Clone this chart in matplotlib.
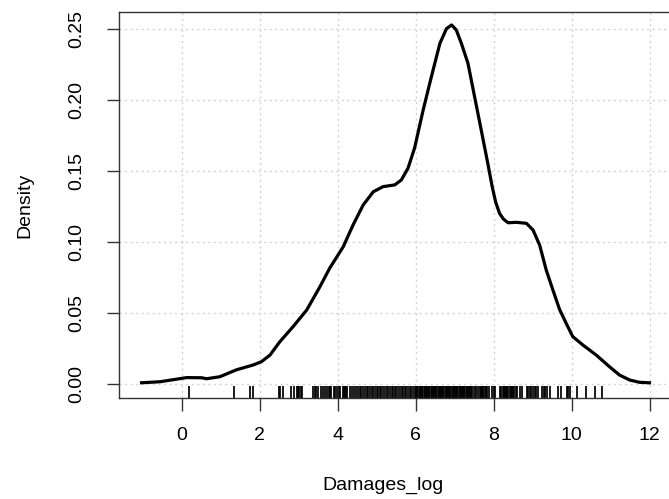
import numpy as np
import matplotlib
matplotlib.use("Agg")
import matplotlib.pyplot as plt

# =========================
# 1. Data
# =========================
density_x = [-1.08, -0.56, 0.12, 0.50, 0.63, 0.97, 1.40, 1.83, 2.04, 2.26,
             2.51, 2.85, 3.20, 3.54, 3.79, 4.14, 4.39, 4.65, 4.91, 5.16,
             5.46, 5.63, 5.80, 5.97, 6.19, 6.40, 6.62, 6.79, 6.92, 7.04,
             7.17, 7.34, 7.51, 7.68, 7.85, 7.96, 8.05, 8.15, 8.25, 8.37, 8.58, 8.84,
             9.01, 9.18, 9.35, 9.52, 9.69, 9.86, 10.03, 10.29, 10.63, 10.97,
             11.23, 11.49, 11.74, 12.04]
density_y = [0.0008, 0.0016, 0.0045, 0.0044, 0.0037, 0.0051, 0.0100, 0.0134, 0.0157, 0.0204,
             0.0297, 0.0403, 0.0520, 0.0684, 0.0814, 0.0966, 0.1118, 0.1259, 0.1352, 0.1388,
             0.1400, 0.1435, 0.1517, 0.1660, 0.1927, 0.2160, 0.2396, 0.2500, 0.2525, 0.2490,
             0.2396, 0.2255, 0.2020, 0.1786, 0.1550, 0.1390, 0.1280, 0.1200, 0.1160, 0.1134, 0.1137, 0.1130,
             0.1083, 0.0977, 0.0800, 0.0661, 0.0525, 0.0427, 0.0333, 0.0274, 0.0204, 0.0122,
             0.0063, 0.0028, 0.0012, 0.0008]

# observations shown in the rug
rug_values = [0.19, 1.33, 1.74, 1.81, 2.49, 2.52, 2.60, 2.81, 2.87, 2.94, 2.97, 3.01,
              3.05, 3.09, 3.36, 3.41, 3.45, 3.50, 3.57, 3.62, 3.68, 3.73, 3.77,
              3.80, 3.83, 3.89, 3.92, 3.97, 4.03, 4.06, 4.12, 4.15, 4.18, 4.21, 4.24,
              4.30, 4.37, 4.41, 4.47, 4.52, 4.56, 4.60, 4.65, 4.69, 4.74, 4.78, 4.82,
              4.87, 4.91, 4.95, 5.00, 5.04, 5.08, 5.12, 5.16, 5.21, 5.25, 5.29, 5.33,
              5.38, 5.42, 5.46, 5.50, 5.55, 5.59, 5.64, 5.68, 5.72, 5.76, 5.80, 5.85,
              5.89, 5.93, 5.97, 6.00, 6.03, 6.06, 6.10, 6.12, 6.15, 6.17, 6.20, 6.23,
              6.25, 6.28, 6.30, 6.33, 6.35, 6.38, 6.41, 6.43, 6.46, 6.48, 6.51, 6.53,
              6.56, 6.59, 6.61, 6.64, 6.66, 6.69, 6.71, 6.74, 6.77, 6.79, 6.82, 6.84,
              6.87, 6.89, 6.92, 6.95, 6.97, 7.00, 7.02, 7.05, 7.07, 7.10, 7.13, 7.15,
              7.18, 7.20, 7.23, 7.25, 7.28, 7.31, 7.33, 7.36, 7.38, 7.41, 7.43, 7.46,
              7.51, 7.55, 7.60, 7.64, 7.67, 7.70, 7.73, 7.76, 7.79, 7.81, 7.84, 7.88,
              7.95, 8.01, 8.04, 8.16, 8.19, 8.23, 8.26, 8.29, 8.32, 8.35, 8.38, 8.41,
              8.44, 8.47, 8.50, 8.53, 8.56, 8.59, 8.68, 8.72, 8.85, 8.89, 8.92, 8.97,
              9.01, 9.05, 9.09, 9.13, 9.24, 9.28, 9.32, 9.36, 9.44, 9.64, 9.74, 9.88,
              9.92, 9.95, 10.13, 10.38, 10.59, 10.77]

x_ticks = [0, 2, 4, 6, 8, 10, 12]
y_ticks = [0.00, 0.05, 0.10, 0.15, 0.20, 0.25]
y_tick_labels = ["0.00", "0.05", "0.10", "0.15", "0.20", "0.25"]

# =========================
# 2. Figure (R base-graphics look)
# =========================
plt.rcParams["font.family"] = ["Liberation Sans", "DejaVu Sans"]
fig = plt.figure(figsize=(6.69, 4.99), dpi=100)
# right edge of the plot box lies just outside the image, as in the reference
ax = fig.add_axes([0.178, 0.2024, 0.829, 0.7735])

# grid first so the curve sits on top
for xt in x_ticks:
    ax.axvline(xt, color="#d3d3d3", lw=1.0, ls=(0, (1.5, 2.5)), zorder=0)
for yt in y_ticks:
    ax.axhline(yt, color="#d3d3d3", lw=1.0, ls=(0, (1.5, 2.5)), zorder=0)

# =========================
# 3. Density curve and rug
# =========================
ax.plot(density_x, density_y, color="black", lw=2.3, solid_capstyle="butt",
        solid_joinstyle="round", zorder=3)
ax.vlines(rug_values, 0, 0.03, transform=ax.get_xaxis_transform(),
          color="black", lw=1.25, zorder=2)

# =========================
# 4. Axes formatting
# =========================
ax.set_xlim(-1.615, 12.62)
ax.set_ylim(-0.00985, 0.2616)
ax.set_xticks(x_ticks)
ax.set_yticks(y_ticks)
ax.set_yticklabels(y_tick_labels, rotation=90, va="center")
ax.tick_params(axis="both", direction="out", length=9, width=1,
               color="#333333", labelsize=14, pad=12)
ax.tick_params(axis="y", pad=15)
for side in ax.spines.values():
    side.set_color("#333333")
    side.set_linewidth(1)

ax.set_xlabel("Damages_log", fontsize=14)
ax.set_ylabel("Density", fontsize=14)
ax.xaxis.set_label_coords(0.475, -0.205)
ax.yaxis.set_label_coords(-0.155, 0.5)

fig.savefig("out.png", dpi=100)
